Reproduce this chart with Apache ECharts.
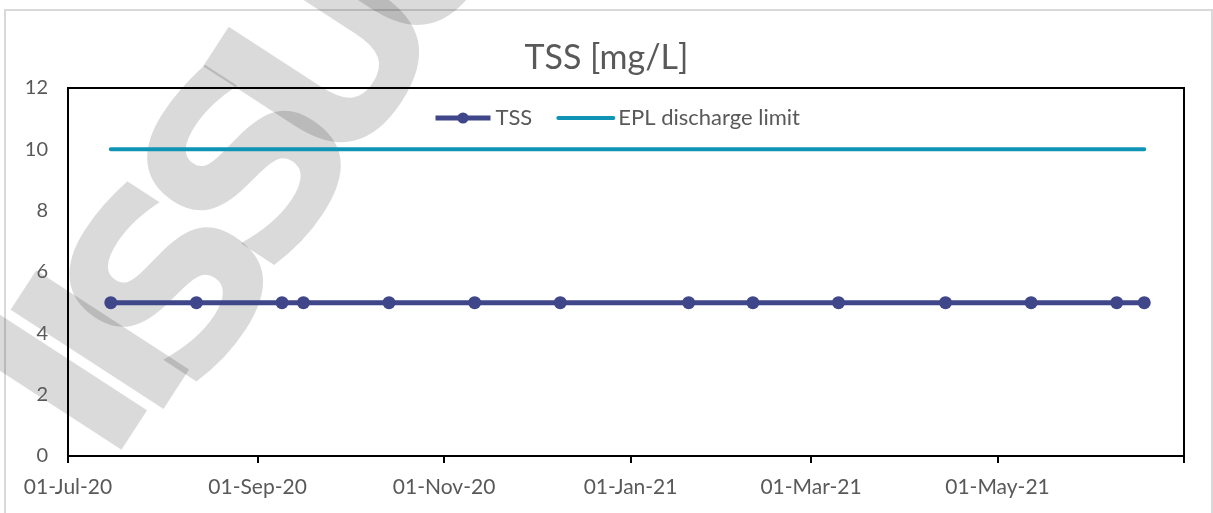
<!DOCTYPE html>
<html>
<head>
<meta charset="utf-8">
<script src="https://cdn.jsdelivr.net/npm/echarts@6/dist/echarts.min.js"></script>
<style>
  html, body { margin: 0; padding: 0; background: #ffffff; }
  #chart { width: 1213px; height: 513px; }
</style>
</head>
<body>
<div id="chart"></div>
<script>
// Sampling dates (TSS monitoring, mg/L)
var sampleDates = [
  '2020-07-15', '2020-08-12', '2020-09-09', '2020-09-16', '2020-10-14',
  '2020-11-11', '2020-12-09', '2021-01-20', '2021-02-10', '2021-03-10',
  '2021-04-14', '2021-05-12', '2021-06-09', '2021-06-18'
];
var tssValues = [5, 5, 5, 5, 5, 5, 5, 5, 5, 5, 5, 5, 5, 5];
var eplLimit = [10, 10, 10, 10, 10, 10, 10, 10, 10, 10, 10, 10, 10, 10];

// Axis ticks
var xTickDates = ['2020-07-01', '2020-09-01', '2020-11-01', '2021-01-01', '2021-03-01', '2021-05-01', '2021-07-01'];
var xLabelDates = ['2020-07-01', '2020-09-01', '2020-11-01', '2021-01-01', '2021-03-01', '2021-05-01'];
var xMin = '2020-07-01';
var xMax = '2021-07-01';
var yMin = 0, yMax = 12, yStep = 2;

var MONTHS = ['Jan', 'Feb', 'Mar', 'Apr', 'May', 'Jun', 'Jul', 'Aug', 'Sep', 'Oct', 'Nov', 'Dec'];
function ts(s) {
  var p = s.split('-');
  return Date.UTC(+p[0], +p[1] - 1, +p[2]);
}
function fmtDate(v) {
  var d = new Date(v);
  var dd = ('0' + d.getUTCDate()).slice(-2);
  var yy = ('' + d.getUTCFullYear()).slice(-2);
  return dd + '-' + MONTHS[d.getUTCMonth()] + '-' + yy;
}

var labelColor = '#595959';
var fontFam = 'Lato, "Open Sans", sans-serif';
var tssColor = '#3F4689';
var eplColor = '#1094B6';

var chart = echarts.init(document.getElementById('chart'));

// Diagonal "IISSUU" mark, drawn letter by letter (offsets along its baseline)
var markLetters = ['I', 'I', 'S', 'S', 'U', 'U'];
var markOffsets = [-134, -77, 11, 151, 287, 427];
var markShift = [-18, -5, 17, 19, 24, 24];
var markChildren = markLetters.map(function (ch, i) {
  return {
    type: 'text',
    x: markOffsets[i],
    y: markShift[i],
    style: {
      text: ch,
      fontSize: 250,
      fontWeight: 'bold',
      fontFamily: '"DejaVu Sans", sans-serif',
      fill: 'rgba(0,0,0,0.145)',
      align: 'center',
      verticalAlign: 'middle'
    }
  };
});

chart.setOption({
  animation: false,
  backgroundColor: '#ffffff',
  title: {
    text: 'TSS [mg/L]',
    left: 'center',
    top: 36,
    textStyle: { color: labelColor, fontSize: 34, fontWeight: 'normal', fontFamily: fontFam }
  },
  legend: {
    left: 428,
    top: 102,
    itemWidth: 55,
    itemHeight: 14,
    itemGap: 24,
    textStyle: { color: labelColor, fontSize: 22, fontFamily: fontFam },
    data: [
      { name: 'TSS', lineStyle: { width: 5 } },
      { name: 'EPL discharge limit', itemStyle: { opacity: 0 }, lineStyle: { width: 4 } }
    ]
  },
  grid: {
    left: 68,
    right: 29,
    top: 88,
    bottom: 57,
    show: true,
    borderColor: '#000000',
    borderWidth: 2,
    backgroundColor: 'transparent'
  },
  xAxis: {
    type: 'value',
    min: ts(xMin),
    max: ts(xMax),
    axisLine: { show: true, lineStyle: { color: '#000000', width: 2 } },
    axisTick: {
      show: true,
      length: 7,
      lineStyle: { color: '#000000', width: 2 },
      customValues: xTickDates.map(ts)
    },
    axisLabel: {
      color: labelColor,
      fontSize: 21,
      fontFamily: fontFam,
      margin: 21,
      customValues: xLabelDates.map(ts),
      formatter: function (v) { return fmtDate(v); }
    },
    splitLine: { show: false }
  },
  yAxis: {
    type: 'value',
    min: yMin,
    max: yMax,
    interval: yStep,
    axisLine: { show: true, lineStyle: { color: '#000000', width: 2 } },
    axisTick: { show: false },
    axisLabel: { color: labelColor, fontSize: 20, fontFamily: fontFam, margin: 20 },
    splitLine: { show: false }
  },
  series: [
    {
      name: 'TSS',
      type: 'line',
      data: sampleDates.map(function (d, i) { return [ts(d), tssValues[i]]; }),
      symbol: 'circle',
      symbolSize: 13,
      showSymbol: true,
      color: tssColor,
      lineStyle: { width: 5, color: tssColor },
      itemStyle: { color: tssColor },
      z: 3
    },
    {
      name: 'EPL discharge limit',
      type: 'line',
      data: sampleDates.map(function (d, i) { return [ts(d), eplLimit[i]]; }),
      symbol: 'none',
      color: eplColor,
      lineStyle: { width: 4, color: eplColor, cap: 'round' },
      z: 2
    }
  ],
  graphic: [
    {
      type: 'rect',
      shape: { x: 5, y: 10, width: 1207, height: 520 },
      style: { fill: 'none', stroke: '#d9d9d9', lineWidth: 2 },
      silent: true,
      z: 0
    },
    {
      type: 'group',
      x: 168,
      y: 292,
      rotation: 57 * Math.PI / 180,
      silent: true,
      z: 100,
      children: markChildren
    }
  ]
});
</script>
</body>
</html>
